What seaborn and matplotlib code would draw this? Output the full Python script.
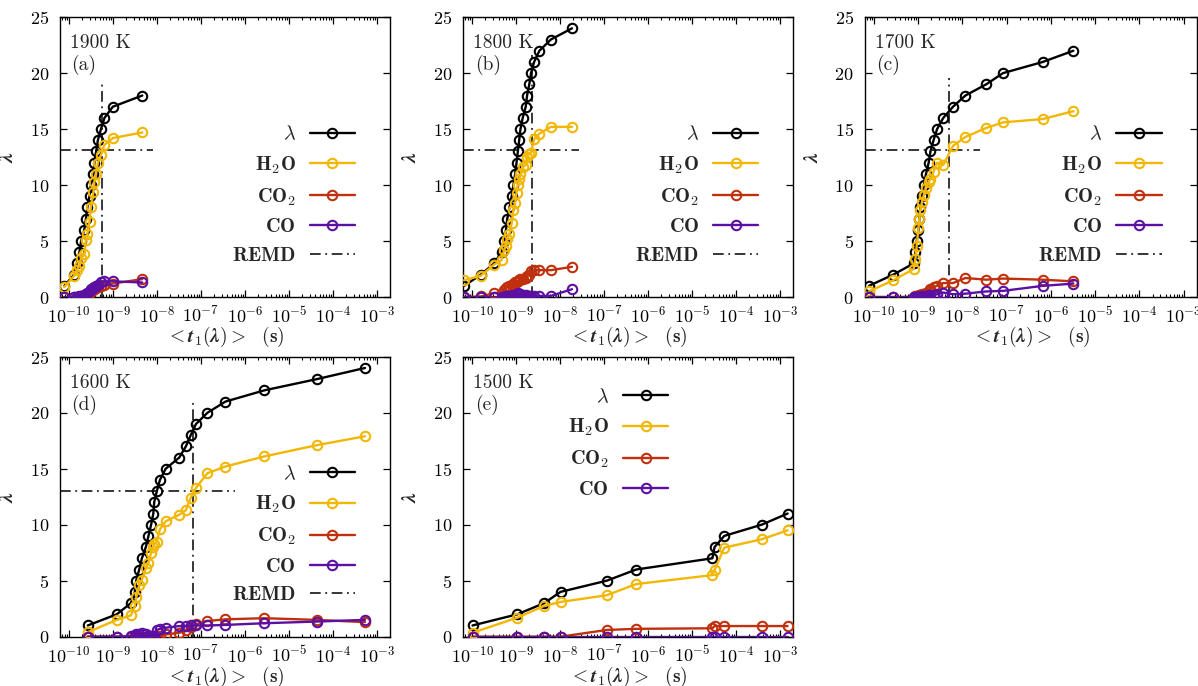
import numpy as np
import pandas as pd
import matplotlib
matplotlib.use("Agg")
import matplotlib.pyplot as plt
import matplotlib.ticker as mticker
from matplotlib.lines import Line2D
import seaborn as sns

# ---------------- data (log10 of <t1(lambda)> in seconds) ----------------
temps = ["1900 K", "1800 K", "1700 K", "1600 K", "1500 K"]
tags = ["(a)", "(b)", "(c)", "(d)", "(e)"]

t_a = [-10.10, -9.88, -9.82, -9.76, -9.72, -9.65, -9.61, -9.58, -9.53, -9.50,
       -9.44, -9.42, -9.38, -9.34, -9.27, -9.19, -9.00, -8.33]
lam_a = list(range(1, 19))
h2o_a = [0.9, 1.9, 2.4, 2.8, 3.5, 3.8, 5.1, 5.6, 6.7, 8.0, 9.4, 10.3, 11.0, 12.0,
         12.7, 13.6, 14.2, 14.7]
co2_a = [0, 0, 0, 0, 0.05, 0.1, 0.2, 0.3, 0.4, 0.5, 0.6, 0.7, 0.8, 0.9, 1.0, 1.1,
         1.2, 1.6]
co_a = [0, 0, 0, 0.05, 0.1, 0.2, 0.3, 0.4, 0.5, 0.7, 0.8, 0.9, 1.0, 1.1, 1.3, 1.4,
        1.4, 1.3]

t_b = [-10.18, -9.80, -9.50, -9.33, -9.27, -9.23, -9.20, -9.15, -9.10, -9.06,
       -9.02, -8.99, -8.96, -8.93, -8.90, -8.85, -8.78, -8.75, -8.70, -8.66,
       -8.59, -8.47, -8.21, -7.73]
lam_b = list(range(1, 25))
h2o_b = [1.5, 1.9, 2.9, 3.3, 4.2, 4.6, 5.2, 5.6, 6.6, 7.8, 8.4, 9.3, 10.0, 10.5,
         11.0, 11.6, 11.8, 12.5, 12.8, 12.9, 14.1, 14.6, 15.2, 15.2]
co2_b = [0, 0.05, 0.35, 0.4, 0.6, 0.8, 0.9, 1.0, 1.1, 1.2, 1.3, 1.3, 1.4, 1.5,
         1.6, 1.6, 1.7, 1.9, 2.0, 2.3, 2.4, 2.4, 2.4, 2.7]
co_b = [0, 0, 0, 0, 0, 0.05, 0.1, 0.1, 0.1, 0.2, 0.2, 0.3, 0.35, 0.3, 0.25, 0.2,
        0.15, 0.1, 0.1, 0.1, 0.05, 0.1, 0.1, 0.7]

t_c = [-10.11, -9.56, -9.10, -9.06, -9.03, -8.99, -8.97, -8.95, -8.91, -8.87,
       -8.82, -8.76, -8.72, -8.65, -8.57, -8.43, -8.21, -7.93, -7.46, -7.08,
       -6.18, -5.49]
lam_c = list(range(1, 23))
h2o_c = [0.5, 1.5, 2.5, 3.4, 4.6, 6.2, 7.0, 7.8, 8.5, 9.1, 9.7, 10.3, 10.5, 11.2,
         12.0, 11.8, 13.5, 14.3, 15.1, 15.6, 15.9, 16.6]
co2_c = [0, 0, 0, 0.05, 0.1, 0.1, 0.15, 0.2, 0.25, 0.3, 0.4, 0.5, 0.7, 0.9, 1.0,
         1.25, 1.25, 1.7, 1.55, 1.65, 1.55, 1.4]
co_c = [0, 0, 0, 0, 0, 0, 0, 0.05, 0.05, 0.1, 0.1, 0.15, 0.2, 0.2, 0.25, 0.4,
        0.25, 0.3, 0.5, 0.55, 1.0, 1.2]

t_d = [-9.57, -8.91, -8.59, -8.50, -8.47, -8.40, -8.34, -8.25, -8.19, -8.13,
       -8.08, -8.06, -8.00, -7.93, -7.80, -7.49, -7.34, -7.23, -7.11, -6.85,
       -6.44, -5.56, -4.37, -3.27]
lam_d = list(range(1, 25))
h2o_d = [0.4, 1.5, 1.9, 2.7, 3.5, 4.6, 5.1, 6.1, 6.6, 7.5, 8.0, 8.3, 8.5, 9.6,
         10.3, 10.9, 11.3, 12.4, 13.3, 14.6, 15.2, 16.1, 17.1, 17.9]
co2_d = [0, 0, 0, 0, 0, 0, 0, 0, 0, 0, 0, 0, 0, 0.05, 0.2, 0.35, 0.6, 0.85, 1.1,
         1.4, 1.55, 1.65, 1.5, 1.3]
co_d = [0, 0, 0.05, 0.1, 0.2, 0.2, 0.3, 0.2, 0.1, 0.1, 0.1, 0.1, 0.6, 0.7, 0.8,
        0.95, 0.95, 1.0, 1.0, 1.0, 1.05, 1.2, 1.35, 1.5]

t_e = [-9.99, -8.97, -8.36, -7.99, -6.94, -6.27, -4.54, -4.49, -4.27, -3.42, -2.83]
lam_e = list(range(1, 12))
h2o_e = [0.35, 1.7, 2.75, 3.1, 3.7, 4.7, 5.5, 5.95, 7.95, 8.7, 9.5]
co2_e = [0, 0, 0, 0, 0.6, 0.7, 0.75, 0.95, 0.95, 0.95, 0.95]
co_e = [0, 0, 0, 0, 0, 0, 0, 0, 0, 0, 0]

# REMD reference lines: (log10 t, lambda level, top of vertical, end of horizontal)
remd_t = [-9.25, -8.64, -8.29, -7.17]
remd_lam = [13.1, 13.15, 13.15, 13.0]
remd_top = [19.3, 21.6, 19.55, 21.2]
remd_hend = [-8.09, -7.58, -7.59, -6.22]

panels = [
    (t_a, lam_a, h2o_a, co2_a, co_a),
    (t_b, lam_b, h2o_b, co2_b, co_b),
    (t_c, lam_c, h2o_c, co2_c, co_c),
    (t_d, lam_d, h2o_d, co2_d, co_d),
    (t_e, lam_e, h2o_e, co2_e, co_e),
]

series_names = [r"$\lambda$", r"$\mathbf{H_2O}$", r"$\mathbf{CO_2}$", r"$\mathbf{CO}$"]
colors = ["#000000", "#f2b705", "#c0300c", "#5b0fa3"]

XMIN, XMAX = 10 ** -10.2, 10 ** -2.7

# ---------------- style ----------------
sns.set_style("ticks")
plt.rcParams.update({
    "font.family": "serif",
    "font.serif": ["cmr10"],
    "mathtext.fontset": "cm",
    "axes.formatter.use_mathtext": True,
    "axes.unicode_minus": False,
    "font.size": 13,
    "axes.linewidth": 1.0,
    "axes.edgecolor": "black",
    "xtick.color": "black",
    "ytick.color": "black",
})

fig = plt.figure(figsize=(11.98, 6.86), dpi=100)
W, H = 0.2755, 0.408
positions = [
    [0.0501, 0.567, W, H],
    [0.3867, 0.567, W, H],
    [0.7220, 0.567, 0.277, H],
    [0.0501, 0.0719, W, H],
    [0.3867, 0.0719, W, H],
]
DASHDOT = (0, (7, 3, 1.2, 3))

for i, (t, lam, h2o, co2, co) in enumerate(panels):
    ax = fig.add_axes(positions[i])
    x = 10 ** np.asarray(t, dtype=float)
    df = pd.DataFrame({"t": x, "lam": lam, "h2o": h2o, "co2": co2, "co": co})

    if i < 4:
        ax.plot([10 ** remd_t[i], 10 ** remd_t[i]], [0, remd_top[i]],
                color="black", lw=1.1, ls=DASHDOT, zorder=1)
        ax.plot([XMIN, 10 ** remd_hend[i]], [remd_lam[i], remd_lam[i]],
                color="black", lw=1.1, ls=DASHDOT, zorder=1)

    for col, c, z in zip(["lam", "h2o", "co2", "co"], colors, [3, 4, 5, 6]):
        sns.lineplot(data=df, x="t", y=col, ax=ax, color=c, estimator=None,
                     sort=False, marker="o", markersize=6.8,
                     markerfacecolor="none", markeredgecolor=c,
                     markeredgewidth=1.5, linewidth=1.7, zorder=z)

    ax.set_xscale("log")
    ax.set_xlim(XMIN, XMAX)
    ax.set_ylim(0, 25)
    ax.xaxis.set_major_locator(mticker.LogLocator(base=10, numticks=20))
    ax.xaxis.set_minor_locator(mticker.LogLocator(base=10, subs=np.arange(2, 10), numticks=20))
    ax.xaxis.set_minor_formatter(mticker.NullFormatter())
    ax.set_xticks([10.0 ** k for k in range(-10, -2)])
    ax.set_yticks([0, 5, 10, 15, 20, 25])
    ax.tick_params(which="major", direction="in", length=5, width=0.9,
                   top=True, right=True, labelsize=13, pad=5.5)
    ax.tick_params(which="minor", direction="in", length=2.5, width=0.8,
                   top=True, right=True)
    ax.tick_params(axis="y", pad=8)
    ax.set_xlabel(r"$<\mathbfit{t}_{\mathbf{1}}\mathbf{(}\mathbfit{\lambda}\mathbf{)}>$  $\mathbf{(s)}$",
                  fontsize=14, labelpad=-0.5)
    ax.set_ylabel(r"$\mathbfit{\lambda}$", fontsize=14.5, labelpad=9)
    for s in ax.spines.values():
        s.set_visible(True)
        s.set_linewidth(1.0)

    ax.text(0.03, 0.94, temps[i], transform=ax.transAxes, ha="left", va="top", fontsize=14)
    ax.text(0.035, 0.865, tags[i], transform=ax.transAxes, ha="left", va="top", fontsize=14)

    handles = [Line2D([], [], color=c, lw=1.7, marker="o", markersize=6.8,
                      markerfacecolor="none", markeredgecolor=c, markeredgewidth=1.5)
               for c in colors]
    labels = list(series_names)
    if i < 4:
        handles.append(Line2D([], [], color="black", lw=1.1, ls=DASHDOT))
        labels.append(r"$\mathbf{REMD}$")
        anchor = (0.894, 0.614)
    else:
        anchor = (0.621, 0.89)
    ax.legend(handles, labels, loc="upper right", bbox_to_anchor=anchor,
              frameon=False, markerfirst=False, borderpad=0, borderaxespad=0,
              handlelength=2.25, handletextpad=0.7, labelspacing=0.52,
              fontsize=14.5, numpoints=1)

fig.savefig("out.png", dpi=100)
